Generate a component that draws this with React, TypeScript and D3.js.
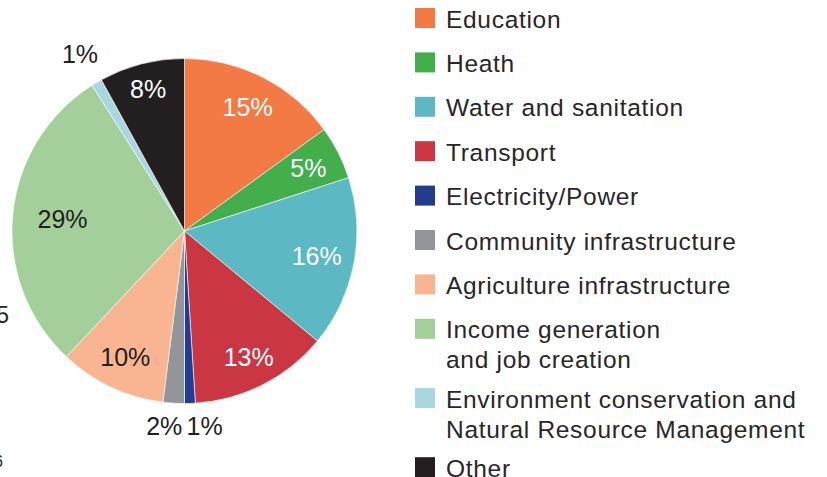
import React from "react";
import * as d3 from "d3";

const categories = [
  "Education",
  "Heath",
  "Water and sanitation",
  "Transport",
  "Electricity/Power",
  "Community infrastructure",
  "Agriculture infrastructure",
  "Income generation\nand job creation",
  "Environment conservation and\nNatural Resource Management",
  "Other",
];
const shares = [15, 5, 16, 13, 1, 2, 10, 29, 1, 8];
const colors = [
  "#F37945",
  "#43AE4C",
  "#5CB9C3",
  "#CA3642",
  "#233D8E",
  "#939598",
  "#F9B592",
  "#A3CF9A",
  "#A8D7DF",
  "#231F20",
];
const labelColors = ["#fff", "#fff", "#fff", "#fff", "#231F20", "#231F20", "#231F20", "#231F20", "#231F20", "#fff"];
// label placement: radius factor relative to pie radius and horizontal nudge
const labelRadius = [0.806, 0.806, 0.78, 0.82, 1.13, 1.13, 0.806, 0.71, 1.19, 0.85];
const labelNudge = [0, 0, 0, 0, 14, -8, 0, 0, 0, 0];

const W = 827;
const H = 477;
const cx = 184.5;
const cy = 231;
const R = 172.5;
const FONT = "'Liberation Sans', Arial, Helvetica, sans-serif";
const TEXT = "#2a2627";

export default function App() {
  const pie = d3.pie<number>().sort(null).value((d) => d).startAngle(0).endAngle(2 * Math.PI);
  const arcs = pie(shares);
  const arc = d3.arc<d3.PieArcDatum<number>>().innerRadius(0).outerRadius(R);

  const legendX = 415;
  const rowStep = 44.4;
  const lineH = 30;
  let y = 8;
  const legendRows = categories.map((c, i) => {
    const lines = c.split("\n");
    const row = { y, lines, color: colors[i] };
    y += rowStep + (lines.length - 1) * (lineH - 5.2);
    return row;
  });

  return (
    <svg width={W} height={H} style={{ position: "absolute", left: 0, top: 0, background: "#fff" }}>
      <g transform={`translate(${cx},${cy})`}>
        {arcs.map((a, i) => (
          <path key={i} d={arc(a) || ""} fill={colors[i]} stroke="#fff" strokeWidth={0.6} />
        ))}
        {arcs.map((a, i) => {
          const mid = (a.startAngle + a.endAngle) / 2;
          const r = R * labelRadius[i];
          const x = Math.sin(mid) * r + labelNudge[i];
          const yy = -Math.cos(mid) * r;
          return (
            <text
              key={i}
              x={x}
              y={yy}
              textAnchor="middle"
              dominantBaseline="central"
              fontFamily={FONT}
              fontSize={25}
              fill={labelColors[i]}
            >
              {shares[i]}%
            </text>
          );
        })}
      </g>
      {legendRows.map((row, i) => (
        <g key={i}>
          <rect x={legendX} y={row.y} width={20} height={20} fill={row.color} />
          {row.lines.map((l, j) => (
            <text
              key={j}
              x={446}
              y={row.y + 19.5 + j * lineH}
              fontFamily={FONT}
              fontSize={24.5}
              letterSpacing={0.7}
              fill={TEXT}
            >
              {l}
            </text>
          ))}
        </g>
      ))}
      <text x={9} y={323} textAnchor="end" fontFamily={FONT} fontSize={23} fill={TEXT}>5</text>
      <text x={3} y={467} textAnchor="end" fontFamily={FONT} fontSize={16} fill={TEXT}>6</text>
    </svg>
  );
}
